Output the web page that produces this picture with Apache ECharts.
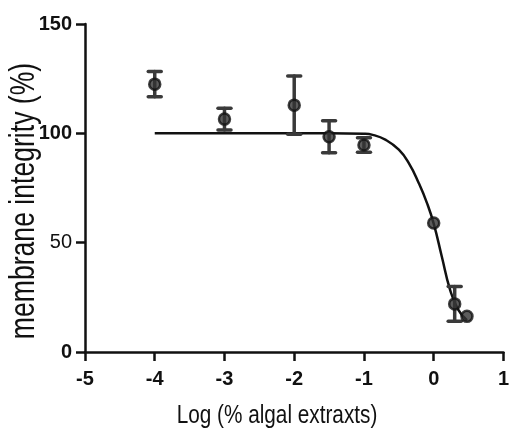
<!DOCTYPE html>
<html>
<head>
<meta charset="utf-8">
<script src="https://cdn.jsdelivr.net/npm/echarts@6/dist/echarts.min.js"></script>
<style>
  html, body { margin: 0; padding: 0; background: #fff; }
  #chart { width: 512px; height: 428px; }
</style>
</head>
<body>
<div id="chart"></div>
<script>
// Measured points: log concentration, mean membrane integrity and SEM
const logConc = [-4, -3, -2, -1.5, -1, 0, 0.301, 0.477];
const meanIntegrity = [122.5, 106.5, 112.9, 98.4, 94.7, 59.0, 22.0, 16.3];
const semIntegrity = [5.8, 5.0, 13.3, 7.3, 3.3, 0, 7.9, 0];

// Fitted dose-response curve, sampled along x
const fitX = [-4, -3, -2, -1.5, -1, -0.875, -0.687, -0.5, -0.357, -0.215, -0.096, 0, 0.116, 0.234, 0.351, 0.477];
const fitY = [100, 100, 100, 100, 99.8, 99.3, 97, 92.5, 86.4, 77.3, 68.1, 58.7, 43.7, 28.5, 19.4, 14.5];

// Axis ticks
const xTicks = [-5, -4, -3, -2, -1, 0, 1];
const yTicks = [0, 50, 100, 150];

const FONT = '"Liberation Sans", Arial, sans-serif';
const chart = echarts.init(document.getElementById('chart'));

const errData = logConc
  .map((x, i) => [x, meanIntegrity[i] - semIntegrity[i], meanIntegrity[i] + semIntegrity[i], semIntegrity[i]])
  .filter(d => d[3] > 0);

chart.setOption({
  animation: false,
  backgroundColor: '#ffffff',
  grid: { left: 85, right: 3, top: 24, bottom: 76, containLabel: false },
  xAxis: {
    type: 'value',
    min: xTicks[0], max: xTicks[xTicks.length - 1], interval: 1,
    axisLine: { onZero: false, lineStyle: { color: '#111', width: 2.5 } },
    axisTick: { length: 9, lineStyle: { color: '#111', width: 2.5 } },
    axisLabel: { margin: 17, color: '#111', fontFamily: FONT, fontSize: 20, fontWeight: 'bold' },
    splitLine: { show: false }
  },
  yAxis: {
    type: 'value',
    min: yTicks[0], max: yTicks[yTicks.length - 1], interval: 50,
    axisLine: { show: true, onZero: false, lineStyle: { color: '#111', width: 2.5 } },
    axisTick: { show: true, length: 9, lineStyle: { color: '#111', width: 2.5 } },
    axisLabel: {
      margin: 13, color: '#111',
      formatter: v => v === 50 ? '{r|' + v + '}' : '{b|' + v + '}',
      rich: {
        b: { fontFamily: FONT, fontSize: 20, fontWeight: 'bold', color: '#111' },
        r: { fontFamily: FONT, fontSize: 20, fontWeight: 'normal', color: '#111' }
      }
    },
    splitLine: { show: false }
  },
  graphic: [
    {
      type: 'text', x: 277, y: 416, scaleX: 0.83,
      style: { text: 'Log (% algal extraxts)', font: '25px ' + FONT, fill: '#111', textAlign: 'center', textVerticalAlign: 'middle' }
    },
    {
      type: 'text', x: 24, y: 201, rotation: Math.PI / 2, scaleX: 0.76,
      style: { text: 'membrane integrity (%)', font: '35px ' + FONT, fill: '#111', textAlign: 'center', textVerticalAlign: 'middle' }
    }
  ],
  series: [
    {
      type: 'line',
      data: fitX.map((x, i) => [x, fitY[i]]),
      smooth: 0.5,
      symbol: 'none',
      lineStyle: { color: '#111', width: 2.5 },
      z: 2
    },
    {
      type: 'custom',
      data: errData,
      renderItem: (params, api) => {
        const x = api.value(0);
        const lo = api.coord([x, api.value(1)]);
        const hi = api.coord([x, api.value(2)]);
        const half = 6.5;
        const style = { stroke: '#3a3a3a', lineWidth: 3.5, lineCap: 'round' };
        return {
          type: 'group',
          children: [
            { type: 'line', shape: { x1: lo[0], y1: lo[1], x2: hi[0], y2: hi[1] }, style },
            { type: 'line', shape: { x1: lo[0] - half, y1: lo[1], x2: lo[0] + half, y2: lo[1] }, style },
            { type: 'line', shape: { x1: hi[0] - half, y1: hi[1], x2: hi[0] + half, y2: hi[1] }, style }
          ]
        };
      },
      z: 3
    },
    {
      type: 'scatter',
      data: logConc.map((x, i) => [x, meanIntegrity[i]]),
      symbol: 'circle',
      symbolSize: 11,
      itemStyle: { color: '#333', borderColor: '#111', borderWidth: 2.5 },
      z: 4
    }
  ]
});
</script>
</body>
</html>
